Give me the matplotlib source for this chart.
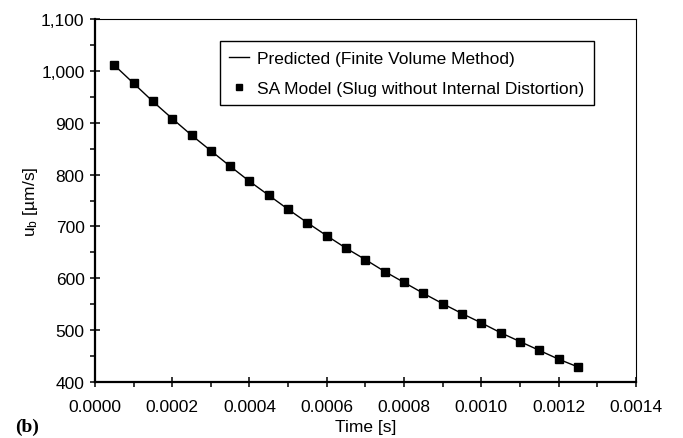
import matplotlib.pyplot as plt
from matplotlib.ticker import MultipleLocator, FuncFormatter

plt.rcParams['font.family'] = ['Liberation Sans', 'DejaVu Sans']
plt.rcParams['mathtext.fontset'] = 'custom'
plt.rcParams['mathtext.rm'] = 'Liberation Sans'
plt.rcParams['mathtext.it'] = 'Liberation Sans:italic'

# bubble velocity vs time
time = [0.00005, 0.00010, 0.00015, 0.00020, 0.00025, 0.00030, 0.00035,
        0.00040, 0.00045, 0.00050, 0.00055, 0.00060, 0.00065, 0.00070,
        0.00075, 0.00080, 0.00085, 0.00090, 0.00095, 0.00100, 0.00105,
        0.00110, 0.00115, 0.00120, 0.00125]
ub_fvm = [1011, 976, 941, 908, 876, 846, 816, 787, 760, 733, 707, 682, 658,
          636, 613, 592, 571, 551, 532, 514, 495, 478, 461, 444, 429]
ub_sa = [1011, 976, 941, 908, 876, 846, 816, 787, 760, 733, 707, 682, 658,
         636, 613, 592, 571, 551, 532, 514, 495, 478, 461, 444, 429]

fig = plt.figure(figsize=(6.83, 4.39), dpi=100)
ax = fig.add_axes([0.139, 0.1276, 0.792, 0.8268])

ax.plot(time, ub_fvm, color='black', lw=1.0, label='Predicted (Finite Volume Method)')
ax.plot(time, ub_sa, ls='none', marker='s', ms=5.5, color='black',
        label='SA Model (Slug without Internal Distortion)')

ax.set_xlim(0, 0.0014)
ax.set_ylim(400, 1100)
ax.xaxis.set_major_locator(MultipleLocator(0.0002))
ax.xaxis.set_minor_locator(MultipleLocator(0.0001))
ax.yaxis.set_major_locator(MultipleLocator(100))
ax.yaxis.set_minor_locator(MultipleLocator(50))
ax.xaxis.set_major_formatter(FuncFormatter(lambda v, p: f'{v:.4f}'))
ax.yaxis.set_major_formatter(FuncFormatter(lambda v, p: f'{v:,.0f}'))

ax.tick_params(which='major', direction='inout', length=7, width=1.1, labelsize=12.5, pad=4)
ax.tick_params(which='minor', direction='out', length=3.5, width=1.1)
ax.tick_params(axis='x', pad=9)

for s in ['left', 'bottom']:
    ax.spines[s].set_linewidth(1.6)
for s in ['top', 'right']:
    ax.spines[s].set_linewidth(0.8)

ax.set_xlabel('Time [s]', fontsize=12.5, labelpad=3)
ax.set_ylabel(r'u$_\mathrm{b}$ [µm/s]', fontsize=12.5, labelpad=1)

leg = ax.legend(loc='upper left', bbox_to_anchor=(0.231, 0.939), fontsize=12.5,
                borderaxespad=0, frameon=True, fancybox=False, edgecolor='black',
                framealpha=1, handlelength=1.1, handletextpad=0.5, borderpad=0.55,
                labelspacing=0.85, markerscale=0.9)
leg.get_frame().set_linewidth(1.0)

fig.text(0.022, 0.015, '(b)', fontsize=14, fontweight='bold',
         family=['Liberation Serif', 'DejaVu Serif'])

fig.savefig('out.png', dpi=100)
